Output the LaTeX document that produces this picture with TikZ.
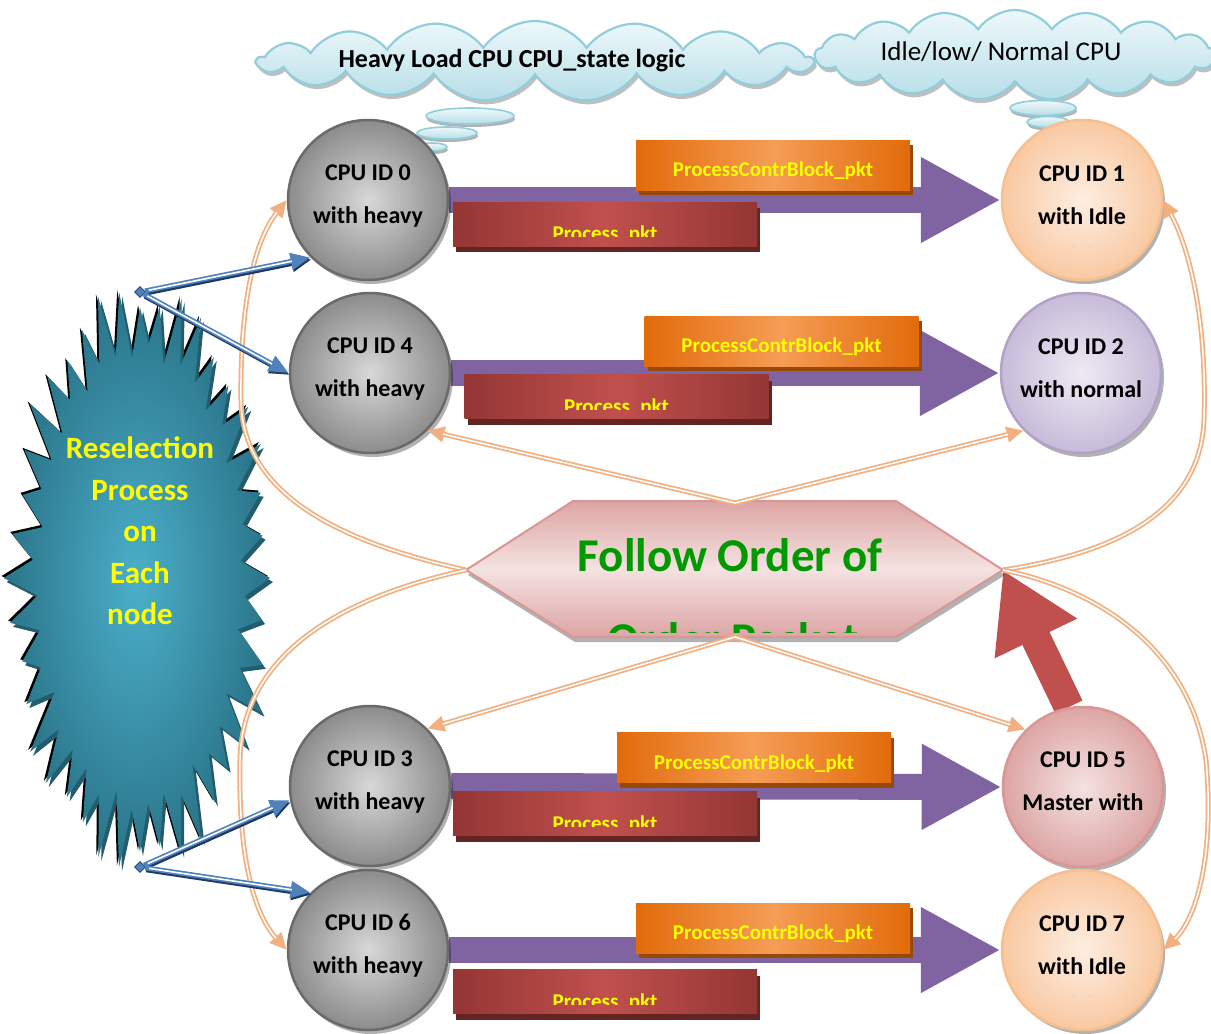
\documentclass[tikz,border=0pt]{standalone}
\usepackage{fontspec}
\setmainfont{Carlito}
\usetikzlibrary{shapes.symbols,shapes.geometric,arrows.meta,shadows}
\pgfdeclarelayer{bg}
\pgfdeclarelayer{back}
\pgfsetlayers{back,bg,main}
\definecolor{purp}{HTML}{8064A2}
\definecolor{orD}{HTML}{E26B0A}
\definecolor{orL}{HTML}{F59D56}
\definecolor{orS}{HTML}{984807}
\definecolor{rdD}{HTML}{943634}
\definecolor{rdL}{HTML}{C0504D}
\definecolor{rdS}{HTML}{632523}
\definecolor{peachline}{HTML}{F2B080}
\definecolor{bluL}{HTML}{4F81BD}
\definecolor{bluD}{HTML}{1F3864}
\definecolor{cloudB}{HTML}{92CDDC}
\definecolor{cloudT}{HTML}{EEF8FA}
\definecolor{cloudBot}{HTML}{B7DEE8}
\definecolor{grnT}{HTML}{009A00}
\definecolor{ylw}{HTML}{FFFF00}
\definecolor{gB}{HTML}{6A6A6A}
\definecolor{gI}{HTML}{D8D8D8}
\definecolor{gO}{HTML}{8C8C8C}
\definecolor{pB}{HTML}{F7BE8E}
\definecolor{pI}{HTML}{FDEEE2}
\definecolor{pO}{HTML}{F9C9A2}
\definecolor{lB}{HTML}{B3A2C7}
\definecolor{lI}{HTML}{EEEAF3}
\definecolor{lO}{HTML}{C7BBD9}
\definecolor{kB}{HTML}{D99694}
\definecolor{kI}{HTML}{F4E2E1}
\definecolor{kO}{HTML}{DCA5A4}
\definecolor{sbI}{HTML}{4BAFC9}
\definecolor{sbO}{HTML}{2A7489}
\newcommand\peachconn[1]{\draw[peachout] #1; \draw[peachin] #1;}
\newcommand\blueconn[2]{\draw[bludark,transform canvas={xshift=1pt,yshift=-2pt}] #1 -- #2; \draw[blulight] #1 -- #2; \draw[bluwhite] #1 -- #2;}
\begin{document}
\begin{tikzpicture}[x=1pt,y=-1pt,
  cpu/.style={circle, minimum size=160pt, inner sep=0pt, line width=2.5pt,
    drop shadow={shadow xshift=3pt,shadow yshift=-4pt,opacity=0.3,fill=black}},
  cpugray/.style={cpu, draw=gB, inner color=gI, outer color=gO},
  cpupeach/.style={cpu, draw=pB, inner color=pI, outer color=pO},
  cpulav/.style={cpu, draw=lB, inner color=lI, outer color=lO},
  cpupink/.style={cpu, draw=kB, inner color=kI, outer color=kO},
  cputext/.style={align=center, inner sep=0pt, font=\bfseries\fontsize{24}{43}\selectfont},
  dots/.style={inner sep=0pt, text=gray!70, font=\fontsize{6}{6}\selectfont},
  obox/.style={rectangle, minimum width=274pt, minimum height=50pt, inner sep=0pt,
    left color=orD, right color=orD, middle color=orL,
    drop shadow={shadow xshift=3pt,shadow yshift=-5pt,opacity=1,fill=orS}},
  rbox/.style={rectangle, minimum width=304pt, minimum height=44pt, inner sep=0pt,
    left color=rdD, right color=rdD, middle color=rdL,
    drop shadow={shadow xshift=3pt,shadow yshift=-6pt,opacity=1,fill=rdS}},
  pkttext/.style={inner sep=0pt, text=ylw, font=\bfseries\fontsize{21}{25}\selectfont},
  purarrow/.style={draw=purp, line width=26pt, -{Triangle[length=80pt,width=80pt]}},
  redarrow/.style={draw=rdL, line width=30pt, -{Triangle[length=76pt,width=86pt]}},
  peachout/.style={draw=peachline, line width=5pt, -{Triangle[length=17pt,width=15pt]}},
  peachin/.style={draw=white, line width=1.5pt, shorten >=16pt},
  bludark/.style={draw=bluD, line width=5pt, -{Triangle[length=20pt,width=16pt]}},
  blulight/.style={draw=bluL, line width=5pt, -{Triangle[length=20pt,width=16pt]}},
  bluwhite/.style={draw=white, line width=1.6pt, shorten >=19pt, shorten <=4pt},
  cloudy/.style={cloud, cloud puffs=17, cloud puff arc=110, aspect=6, draw=cloudB,
    line width=2.2pt, top color=cloudT, bottom color=cloudBot, inner sep=0pt,
    drop shadow={shadow xshift=2pt,shadow yshift=-4pt,opacity=0.25,fill=black}},
  bubble/.style={ellipse, draw=cloudB, line width=1.6pt, top color=cloudT, bottom color=cloudBot,
    inner sep=0pt, drop shadow={shadow xshift=1pt,shadow yshift=-3pt,opacity=0.3,fill=black}},
  hexshape/.style={draw=kB, line width=2pt, top color=kO, bottom color=kO, middle color=kI,
    drop shadow={shadow xshift=2pt,shadow yshift=-5pt,opacity=0.3,fill=black}},
  hextext/.style={inner sep=0pt, text=grnT, font=\bfseries\fontsize{47}{50}\selectfont},
  sbtext/.style={align=center, inner sep=0pt, text=ylw, font=\bfseries\fontsize{31}{41.5}\selectfont}
]
\useasboundingbox (0,0) rectangle (1211,1034);
\begin{pgfonlayer}{back}
\fill[white] (0,0) rectangle (1211,1034);
\end{pgfonlayer}

% starburst
\fill[black, shift={(-2,-2)}] (270,578) \foreach \i [evaluate=\i as \r using {mod(\i,2)==0 ? 1+0.05*sin(\i*137) : 0.8+0.03*cos(\i*71)}] in {1,...,79} { -- ({140+130*\r*cos(\i*4.5)},{578+283*\r*sin(\i*4.5)}) } -- cycle;
\fill[sbO!80!black, shift={(3,4)}] (270,578) \foreach \i [evaluate=\i as \r using {mod(\i,2)==0 ? 1+0.05*sin(\i*137) : 0.8+0.03*cos(\i*71)}] in {1,...,79} { -- ({140+130*\r*cos(\i*4.5)},{578+283*\r*sin(\i*4.5)}) } -- cycle;
\shade[inner color=sbI, outer color=sbO] (270,578) \foreach \i [evaluate=\i as \r using {mod(\i,2)==0 ? 1+0.05*sin(\i*137) : 0.8+0.03*cos(\i*71)}] in {1,...,79} { -- ({140+130*\r*cos(\i*4.5)},{578+283*\r*sin(\i*4.5)}) } -- cycle;
\node[sbtext] (sbt) at (140,531) {Reselection\\Process\\on\\Each\\node};

% clouds
\node[cloudy, minimum width=555pt, minimum height=80pt] (cl1) at (535,61) {};
\node[inner sep=0pt, font=\bfseries\fontsize{26}{30}\selectfont] (cl1t) at (512,61) {Heavy Load CPU CPU\_state logic};
\node[bubble, minimum width=88pt, minimum height=16pt] (b1) at (470,116) {};
\node[bubble, minimum width=60pt, minimum height=12pt] (b2) at (447,133) {};
\node[bubble, minimum width=30pt, minimum height=8pt] (b3) at (432,147) {};
\node[cloudy, minimum width=400pt, minimum height=90pt] (cl2) at (1015,55) {};
\node[inner sep=0pt, font=\fontsize{27}{30}\selectfont] (cl2t) at (1001,52) {Idle/low/ Normal CPU};
\node[bubble, minimum width=66pt, minimum height=15pt] (b4) at (1043,108) {};
\node[bubble, minimum width=42pt, minimum height=11pt] (b5) at (1048,122) {};

% hexagon
\coordinate (hexL) at (466,570);
\coordinate (hexR) at (1003,570);
\coordinate (hexT) at (735,503);
\coordinate (hexB) at (735,637);
\path[hexshape] (hexL) -- (573,501) -- (896,501) -- (hexR) -- (896,637) -- (573,637) -- cycle;
\node[hextext] (ht1) at (730,555) {Follow Order of};
\begin{scope}
\clip (466,500) rectangle (1003,632);
\node[hextext, anchor=base] (ht2) at (733,655) {Order Packet};
\end{scope}

% boxes
\node[obox] (o0) at (773,165) {};
\node[obox] (o1) at (781.5,341) {};
\node[obox] (o2) at (754,757.5) {};
\node[obox] (o3) at (773,928) {};
\foreach \b in {o0,o1,o2,o3} {\node[pkttext] (\b t) at ([yshift=-6pt]\b) {ProcessContrBlock\_pkt};}
\node[rbox] (r0) at (605,224) {};
\node[rbox] (r1) at (616.5,396.5) {};
\node[rbox] (r2) at (605,813.5) {};
\node[rbox] (r3) at (605,991.5) {};
\foreach \b in {r0,r1,r2,r3} {
  \begin{scope}
  \clip (\b.north west) rectangle ([yshift=-35pt]\b.north east);
  \node[pkttext, anchor=base] (\b t) at ([yshift=-39pt]\b.north) {Process\_pkt};
  \end{scope}
}

% CPU circles
\node[cpugray] (c0) at (368,200) {};
\node[cpupeach] (c1) at (1082,200) {};
\node[cpugray] (c4) at (370,373) {};
\node[cpulav] (c2) at (1081,373) {};
\node[cpugray] (c3) at (370,786) {};
\node[cpupink] (c5) at (1083,787) {};
\node[cpugray] (c6) at (368,950) {};
\node[cpupeach] (c7) at (1082,950) {};
\node[cputext] (c0t) at ([yshift=4pt]c0) {CPU ID 0\\with heavy};
\node[cputext] (c1t) at ([yshift=5pt]c1) {CPU ID 1\\with Idle};
\node[cputext] (c4t) at ([yshift=4pt]c4) {CPU ID 4\\with heavy};
\node[cputext] (c2t) at ([yshift=5pt]c2) {CPU ID 2\\with normal};
\node[cputext] (c3t) at ([yshift=4pt]c3) {CPU ID 3\\with heavy};
\node[cputext] (c5t) at ([yshift=6pt]c5) {CPU ID 5\\Master with};
\node[cputext] (c6t) at ([yshift=4pt]c6) {CPU ID 6\\with heavy};
\node[cputext] (c7t) at ([yshift=5pt]c7) {CPU ID 7\\with Idle};
\node[dots] (d0) at ([xshift=-4pt,yshift=-48pt]c0) {-\hspace{14pt}-};
\node[dots] (d4) at ([xshift=0pt,yshift=-48pt]c4) {-\hspace{14pt}-};
\node[dots] (d3) at ([xshift=0pt,yshift=-48pt]c3) {-\hspace{14pt}-};
\node[dots] (d1) at ([xshift=0pt,yshift=-48pt]c1) {-\hspace{14pt}-};
\node[dots] (d7) at ([xshift=0pt,yshift=-48pt]c7) {-\hspace{14pt}-};
\node[dots] (d5) at ([xshift=-45pt,yshift=-46pt]c5) {-};

% background arrows
\begin{pgfonlayer}{bg}
\draw[purarrow] (c0.east) -- (c1.west);
\draw[purarrow] (c4.east) -- (c2.west);
\draw[purarrow] (c3.east) -- (c5.west);
\draw[purarrow] (c6.east) -- (c7.west);
\draw[redarrow] (c5.100) -- (hexR);
\end{pgfonlayer}

% peach connectors
\peachconn{(hexL) .. controls (330,540) and (242,490) .. (241,400) .. controls (240,300) and (255,240) .. (c0.west)}
\peachconn{(hexL) .. controls (330,600) and (242,660) .. (240,760) .. controls (238,860) and (255,915) .. (c6.west)}
\peachconn{(hexR) .. controls (1100,555) and (1200,520) .. (1204,420) .. controls (1207,320) and (1190,250) .. (c1.east)}
\peachconn{(hexR) .. controls (1100,590) and (1190,650) .. (1206,760) .. controls (1215,860) and (1195,920) .. (c7.east)}
\peachconn{(hexT) -- (c4.-45)}
\peachconn{(hexT) -- (c2.225)}
\peachconn{(hexB) -- (c3.45)}
\peachconn{(hexB) -- (c5.135)}

% blue connectors
\node[diamond, fill=bluL, draw=bluD, line width=0.8pt, minimum size=11pt, inner sep=0pt] (s1) at (140,292) {};
\node[diamond, fill=bluL, draw=bluD, line width=0.8pt, minimum size=11pt, inner sep=0pt] (s2) at (140,867) {};
\blueconn{(s1)}{(c0.225)}
\blueconn{(s1)}{(c4.west)}
\blueconn{(s2)}{(c3.190)}
\blueconn{(s2)}{(c6.135)}
\end{tikzpicture}
\end{document}
